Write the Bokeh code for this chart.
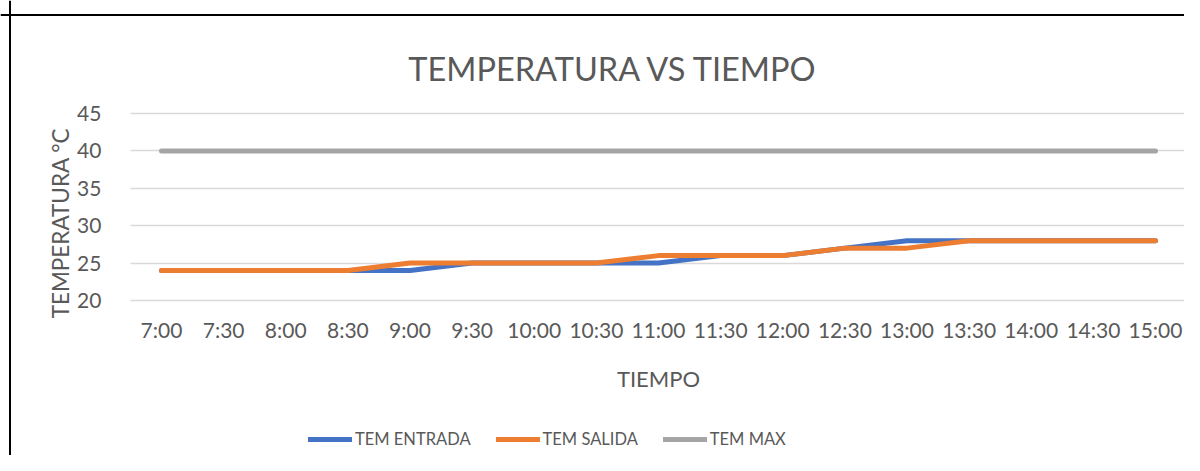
import math
from bokeh.plotting import figure
from bokeh.models import Range1d, Label, Legend, LegendItem, FixedTicker, Span, Grid
from bokeh.embed import file_html
from bokeh.resources import INLINE

# ---- data ----
times = ["7:00", "7:30", "8:00", "8:30", "9:00", "9:30", "10:00", "10:30", "11:00",
         "11:30", "12:00", "12:30", "13:00", "13:30", "14:00", "14:30", "15:00"]
tem_entrada = [24, 24, 24, 24, 24, 25, 25, 25, 25, 26, 26, 27, 28, 28, 28, 28, 28]
tem_salida = [24, 24, 24, 24, 25, 25, 25, 25, 26, 26, 26, 27, 27, 28, 28, 28, 28]
tem_max = [40] * 17
y_ticks = [20, 25, 30, 35, 40, 45]

title_text = "TEMPERATURA VS TIEMPO"
x_title = "TIEMPO"
y_title = "TEMPERATURA °C"

FONT = "Lato"
TXT = "#595959"

xi = list(range(len(times)))          # category positions
n = len(times)

W, H = 1184, 455
# pixel geometry (canvas coords): first category at 161, spacing 62.125; 45 at y=113, 20 at y=300
PX_X = 62.125
PX_Y = 7.48
x_start = -161 / PX_X
y_top = 45 + 113 / PX_Y

p = figure(x_range=Range1d(x_start, x_start + W / PX_X),
           y_range=Range1d(y_top - H / PX_Y, y_top),
           width=W, height=H, output_backend="svg", toolbar_location=None,
           min_border=0, min_border_left=0, min_border_right=0, min_border_top=0, min_border_bottom=0)
p.title.visible = False
p.outline_line_color = None
p.background_fill_color = "white"
p.border_fill_color = "white"

# axes drawn inside the frame at fixed positions
p.xaxis.fixed_location = min(y_ticks)
p.yaxis.fixed_location = -0.5
p.xaxis.ticker = FixedTicker(ticks=xi)
p.xaxis.major_label_overrides = {i: t for i, t in zip(xi, times)}
p.yaxis.ticker = FixedTicker(ticks=y_ticks)
p.yaxis.bounds = (min(y_ticks), max(y_ticks))
p.xaxis.bounds = (-0.5, n - 0.5)

for ax in (p.xaxis[0], p.yaxis[0]):
    ax.axis_line_color = None
    ax.major_tick_line_color = None
    ax.minor_tick_line_color = None
    ax.major_label_text_font = FONT
    ax.major_label_text_font_size = "21px"
    ax.major_label_text_color = TXT
p.yaxis.major_label_standoff = 23
p.xaxis.major_label_standoff = 10

p.xgrid.grid_line_color = None
if "cross_bounds" in Grid.properties():
    p.ygrid.cross_bounds = (-0.5, n - 0.5)
    p.ygrid.grid_line_color = "#d9d9d9"
    p.ygrid.grid_line_width = 1.5
else:
    p.ygrid.grid_line_color = None
    p.segment(x0=[-0.5] * len(y_ticks), x1=[n - 0.5] * len(y_ticks), y0=y_ticks, y1=y_ticks,
              line_color="#d9d9d9", line_width=1.5)

r_max = p.line(xi, tem_max, line_color="#a5a5a5", line_width=5, line_cap="round", line_join="round")
r_in = p.line(xi, tem_entrada, line_color="#4472c4", line_width=5, line_cap="round", line_join="round")
r_out = p.line(xi, tem_salida, line_color="#ed7d31", line_width=5, line_cap="round", line_join="round")

# chart border (left and top)
p.add_layout(Span(location=(9.5 - 161) / PX_X, dimension="height", line_color="black", line_width=2))
p.add_layout(Span(location=45 + (113 - 14.5) / PX_Y, dimension="width", line_color="black", line_width=2))

# titles
p.add_layout(Label(x=(613 - 161) / PX_X, y=45 + (113 - 67.7) / PX_Y, text=title_text, text_font=FONT,
                   text_font_size="32.5px", text_color=TXT, text_align="center",
                   text_baseline="alphabetic"))
p.add_layout(Label(x=(658 - 161) / PX_X, y=20 - (378 - 300) / PX_Y, text=x_title, text_font=FONT,
                   text_font_size="22px", text_color=TXT, text_align="center",
                   text_baseline="alphabetic"))
p.add_layout(Label(x=(60 - 161) / PX_X, y=45 - (222.5 - 113) / PX_Y, text=y_title, text_font=FONT,
                   text_font_size="22.5px", text_color=TXT, text_align="center", text_baseline="middle",
                   angle=math.pi / 2))

legend = Legend(items=[LegendItem(label="TEM ENTRADA", renderers=[r_in]),
                       LegendItem(label="TEM SALIDA", renderers=[r_out]),
                       LegendItem(label="TEM MAX", renderers=[r_max])],
                location=(308, 4), orientation="horizontal",
                glyph_width=44, glyph_height=24, label_height=24, label_standoff=3, spacing=25,
                padding=0, margin=0, border_line_color=None, background_fill_alpha=0,
                label_text_font=FONT, label_text_font_size="16.5px", label_text_color=TXT)
p.add_layout(legend)

open("out.html", "w").write(file_html(p, INLINE))
